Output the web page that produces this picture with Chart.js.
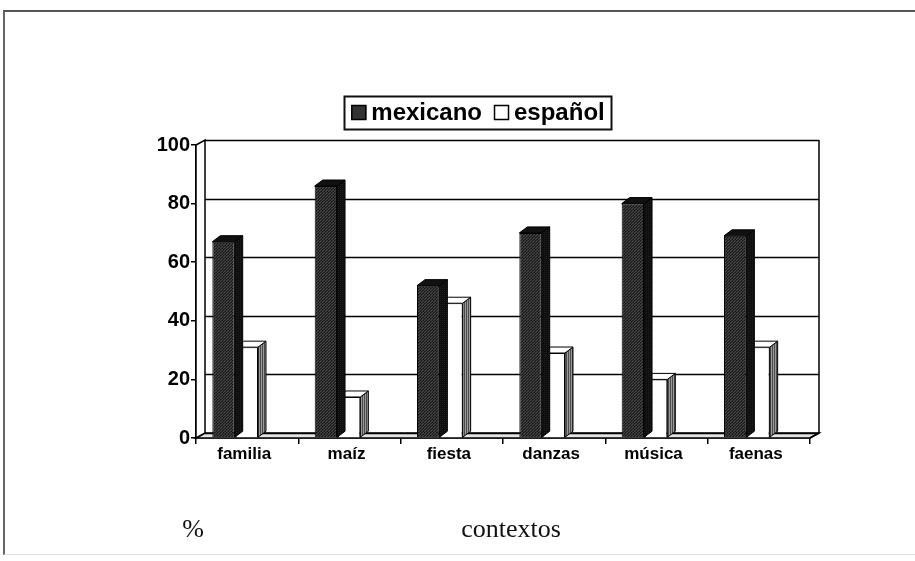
<!DOCTYPE html>
<html>
<head>
<meta charset="utf-8">
<script src="https://cdn.jsdelivr.net/npm/chart.js@4/dist/chart.umd.min.js"></script>
<style>
  html, body { margin: 0; padding: 0; background: #fff; }
  #wrap { position: relative; width: 915px; height: 561px; overflow: hidden; }
  #frame {
    position: absolute; left: 3px; top: 10px; width: 1000px; height: 542px;
    border-top: 2px solid #555; border-left: 2px solid #666; border-bottom: 1px solid #e2e2e2;
  }
  canvas { position: absolute; left: 0; top: 0; }
  .note {
    position: absolute; top: 514px; transform: translateX(-50%);
    font-family: "Liberation Serif", "Times New Roman", serif; font-size: 26px;
    line-height: 30px; color: #111; white-space: nowrap;
  }
</style>
</head>
<body>
<div id="wrap">
  <div id="frame"></div>
  <canvas id="chart" width="915" height="561"></canvas>
  <div class="note" style="left:193px">%</div>
  <div class="note" style="left:511px">contextos</div>
</div>
<script>
// Share of each context (%), by origin
const categories = ['familia', 'maíz', 'fiesta', 'danzas', 'música', 'faenas'];
const mexicano   = [67, 86, 52, 70, 80, 69];
const espanol    = [31, 14, 46, 29, 20, 31];
const yTicks     = [0, 20, 40, 60, 80, 100];

// Small tiled patterns that give the printed-halftone look
function pattern(w, h, paint) {
  const c = document.createElement('canvas');
  c.width = w; c.height = h;
  const g = c.getContext('2d');
  paint(g);
  return document.getElementById('chart').getContext('2d').createPattern(c, 'repeat');
}
const darkFront = pattern(3, 3, g => {
  g.fillStyle = '#2a2a2a'; g.fillRect(0, 0, 3, 3);
  g.fillStyle = '#464646'; g.fillRect(0, 0, 1, 1); g.fillRect(2, 1, 1, 1); g.fillRect(1, 2, 1, 1);
  g.fillStyle = '#161616'; g.fillRect(1, 0, 1, 1); g.fillRect(0, 2, 1, 1);
});
const darkSide = pattern(2, 2, g => {
  g.fillStyle = '#0e0e0e'; g.fillRect(0, 0, 2, 2);
  g.fillStyle = '#1e1e1e'; g.fillRect(0, 0, 1, 1);
});
const greySide = pattern(2, 2, g => {
  g.fillStyle = '#9a9a9a'; g.fillRect(0, 0, 2, 2);
  g.fillStyle = '#4a4a4a'; g.fillRect(0, 0, 1, 2);
});

const WALL = { dx: 9, dy: 5 };     // depth of the back wall / floor
const BAR  = { dx: 8, dy: 6 };     // depth of each column
const BAR_SHIFT = -12;             // columns sit left of the category centre in the 3-D view

// Back wall, floor, side wall and the column side / top faces
const box3d = {
  id: 'box3d',
  beforeDatasetsDraw(chart) {
    const { ctx, chartArea: a, scales: { y } } = chart;
    const { dx, dy } = WALL;
    ctx.save();
    ctx.lineWidth = 1.5;
    ctx.strokeStyle = '#000';
    // floor slab
    ctx.beginPath();
    ctx.moveTo(a.left, a.bottom); ctx.lineTo(a.right, a.bottom);
    ctx.lineTo(a.right + dx, a.bottom - dy); ctx.lineTo(a.left + dx, a.bottom - dy);
    ctx.closePath();
    ctx.fillStyle = '#e4e4e4'; ctx.fill(); ctx.stroke();
    // left side wall
    ctx.beginPath();
    ctx.moveTo(a.left, a.bottom); ctx.lineTo(a.left, a.top);
    ctx.lineTo(a.left + dx, a.top - dy); ctx.lineTo(a.left + dx, a.bottom - dy);
    ctx.closePath();
    ctx.fillStyle = '#fff'; ctx.fill(); ctx.stroke();
    // gridlines on the back wall
    y.ticks.forEach(t => {
      const py = Math.round(y.getPixelForValue(t.value) - dy) + 0.5;
      ctx.beginPath();
      ctx.moveTo(a.left + dx, py); ctx.lineTo(a.right + dx, py);
      ctx.stroke();
    });
    // right edge of the back wall
    ctx.beginPath();
    ctx.moveTo(a.right + dx, a.top - dy); ctx.lineTo(a.right + dx, a.bottom - dy);
    ctx.lineTo(a.right, a.bottom);
    ctx.stroke();
    ctx.restore();
  },
  beforeDatasetDraw(chart) {
    chart.ctx.save();
    chart.ctx.translate(BAR_SHIFT, 0);
  },
  afterDatasetDraw(chart, args) {
    const ctx = chart.ctx;
    const ds = chart.data.datasets[args.index];
    const { dx, dy } = BAR;
    ctx.lineWidth = 1;
    ctx.strokeStyle = '#000';
    args.meta.data.forEach(bar => {
      const { x, y, base, width } = bar.getProps(['x', 'y', 'base', 'width'], true);
      const l = x - width / 2, r = x + width / 2;
      // side face
      ctx.beginPath();
      ctx.moveTo(r, y); ctx.lineTo(r + dx, y - dy);
      ctx.lineTo(r + dx, base - dy); ctx.lineTo(r, base);
      ctx.closePath();
      ctx.fillStyle = ds.sideColor; ctx.fill(); ctx.stroke();
      // top face
      ctx.beginPath();
      ctx.moveTo(l, y); ctx.lineTo(l + dx, y - dy);
      ctx.lineTo(r + dx, y - dy); ctx.lineTo(r, y);
      ctx.closePath();
      ctx.fillStyle = ds.topColor; ctx.fill(); ctx.stroke();
    });
    ctx.restore();
  }
};

// Boxed legend centred above the plot
const legendBox = {
  id: 'legendBox',
  afterDraw(chart) {
    const ctx = chart.ctx;
    ctx.save();
    ctx.font = 'bold 24px "Liberation Sans", Arial, sans-serif';
    ctx.textBaseline = 'middle';
    const sq = 15, gap = 5, itemGap = 12, padX = 7;
    const items = chart.data.datasets.map(d => ({ d, w: ctx.measureText(d.label).width }));
    const total = items.reduce((s, it) => s + sq + gap + it.w, 0) + itemGap * (items.length - 1);
    const cx = 478, top = 96, h = 33, cy = top + h / 2;
    let x = cx - total / 2;
    ctx.lineWidth = 2;
    ctx.strokeStyle = '#111';
    ctx.strokeRect(Math.round(x - padX) + 0.5, top + 0.5, Math.round(total + 2 * padX), h);
    items.forEach(it => {
      ctx.fillStyle = it.d.legendFill;
      ctx.fillRect(x, cy - sq / 2, sq, sq);
      ctx.lineWidth = 1.5;
      ctx.strokeStyle = '#000';
      ctx.strokeRect(x + 0.5, cy - sq / 2 + 0.5, sq - 1, sq - 1);
      x += sq + gap;
      ctx.fillStyle = '#000';
      ctx.fillText(it.d.label, x, cy + 1);
      x += it.w + itemGap;
    });
    ctx.restore();
  }
};

new Chart(document.getElementById('chart'), {
  type: 'bar',
  data: {
    labels: categories,
    datasets: [
      {
        label: 'mexicano', data: mexicano,
        backgroundColor: darkFront, borderColor: '#000', borderWidth: 1,
        sideColor: darkSide, topColor: '#111', legendFill: '#333'
      },
      {
        label: 'español', data: espanol,
        backgroundColor: '#fff', borderColor: '#000', borderWidth: 1,
        sideColor: greySide, topColor: '#fff', legendFill: '#fff'
      }
    ]
  },
  options: {
    responsive: false,
    animation: false,
    events: [],
    layout: { padding: { left: 0, right: 105, top: 145, bottom: 0 } },
    datasets: { bar: { categoryPercentage: 0.455, barPercentage: 0.96 } },
    plugins: { legend: { display: false }, tooltip: { enabled: false } },
    scales: {
      x: {
        grid: { display: true, drawOnChartArea: false, offset: true, tickLength: 6, color: '#000', lineWidth: 1.5 },
        border: { display: true, color: '#000', width: 1.5 },
        ticks: {
          color: '#000', padding: 0, maxRotation: 0, labelOffset: -3,
          font: { family: '"Liberation Sans Narrow", "Arial Narrow", "Liberation Sans", sans-serif', size: 17, weight: 'bold' }
        },
        afterFit: s => { s.height = 123; }
      },
      y: {
        min: 0, max: 100,
        afterBuildTicks: s => { s.ticks = yTicks.map(v => ({ value: v })); },
        grid: { display: true, drawOnChartArea: false, tickLength: 5, color: '#000', lineWidth: 1.5 },
        border: { display: true, color: '#000', width: 1.5 },
        ticks: {
          color: '#000', padding: 1,
          font: { family: '"Liberation Sans", Arial, sans-serif', size: 20, weight: 'bold' }
        },
        afterFit: s => { s.width = 196; }
      }
    }
  },
  plugins: [box3d, legendBox]
});
</script>
</body>
</html>
